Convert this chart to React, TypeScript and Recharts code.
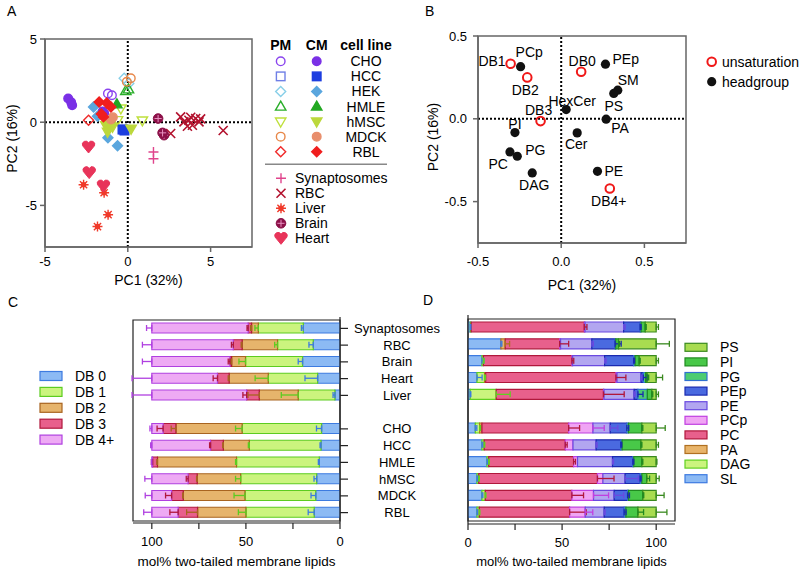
import React from 'react';
import {
  ScatterChart, Scatter, BarChart, Bar, XAxis, YAxis,
  ReferenceLine, ReferenceArea, ErrorBar,
} from 'recharts';

const FONT = '"Liberation Sans", Arial, Helvetica, sans-serif';
const FRAME = '#666';

// ---------- categories ----------
const cellLines = ['CHO', 'HCC', 'HEK', 'HMLE', 'hMSC', 'MDCK', 'RBL'];
const barCellLines = ['CHO', 'HCC', 'HMLE', 'hMSC', 'MDCK', 'RBL'];
const tissues = ['Synaptosomes', 'RBC', 'Brain', 'Heart', 'Liver'];
const tissueLegend = ['Synaptosomes', 'RBC', 'Liver', 'Brain', 'Heart'];

// ---------- A: PCA scores (PC1, PC2) ----------
const choPM = [{ x: -1.2, y: 1.72 }, { x: -0.96, y: 1.62 }];
const choCM = [{ x: -3.6, y: 1.42 }, { x: -3.42, y: 1.2 }, { x: -3.36, y: 1.02 }, { x: -1.52, y: 0.64 }, { x: -1.42, y: 0.52 }];
const hccPM = [{ x: -0.26, y: -0.44 }];
const hccCM = [{ x: -0.32, y: -0.44 }, { x: -0.2, y: -0.5 }];
const hekPM = [{ x: -0.22, y: 2.64 }, { x: 0.06, y: 2.32 }];
const hekCM = [{ x: -2.07, y: 0.92 }, { x: -1.83, y: 0.36 }, { x: -1.2, y: -0.93 }, { x: -0.62, y: -1.42 }];
const hmlePM = [{ x: -0.12, y: 1.88 }, { x: 0.04, y: 1.98 }];
const hmleCM = [{ x: -0.66, y: 1.08 }];
const hmscPM = [{ x: -0.42, y: 0.82 }, { x: -0.62, y: 0.12 }, { x: 0.88, y: 0.1 }];
const hmscCM = [{ x: -1.33, y: -0.18 }, { x: -1.13, y: -0.38 }, { x: -1.22, y: -0.58 }, { x: -0.92, y: -0.28 }, { x: -1.1, y: -0.1 }, { x: 0.2, y: -0.4 }];
const mdckPM = [{ x: 0.18, y: 2.64 }, { x: -0.06, y: 2.43 }];
const mdckCM = [{ x: -1.02, y: 0.16 }, { x: -0.9, y: 0.3 }];
const rblPM = [{ x: -2.37, y: 0.12 }];
const rblCM = [{ x: -1.73, y: 1.22 }, { x: -1.27, y: 1.16 }, { x: -1.02, y: 0.92 }, { x: -1.47, y: 0.32 }, { x: -1.6, y: 0.5 }];

const synaptosomes = [{ x: 1.55, y: -1.79 }, { x: 1.55, y: -2.2 }];
const rbc = [
  { x: 2.59, y: -0.68 }, { x: 5.76, y: -0.5 }, { x: 3.19, y: 0.32 }, { x: 3.39, y: 0.02 }, { x: 3.69, y: 0.12 },
  { x: 3.9, y: -0.18 }, { x: 4.1, y: 0.22 }, { x: 4.3, y: 0.02 }, { x: 3.6, y: -0.24 }, { x: 4.4, y: 0.2 }, { x: 3.8, y: 0.3 },
];
const liver = [{ x: -2.67, y: -3.76 }, { x: -1.43, y: -4.24 }, { x: -1.19, y: -5.56 }, { x: -1.83, y: -6.27 }];
const brain = [{ x: 1.83, y: 0.22 }, { x: 2.19, y: -0.78 }, { x: 2.1, y: -0.64 }];
const heart = [{ x: -2.37, y: -1.49 }, { x: -2.33, y: -3.03 }, { x: -1.47, y: -3.83 }];

const pmPoints: Record<string, { x: number; y: number }[]> = {
  CHO: choPM, HCC: hccPM, HEK: hekPM, HMLE: hmlePM, hMSC: hmscPM, MDCK: mdckPM, RBL: rblPM,
};
const cmPoints: Record<string, { x: number; y: number }[]> = {
  CHO: choCM, HCC: hccCM, HEK: hekCM, HMLE: hmleCM, hMSC: hmscCM, MDCK: mdckCM, RBL: rblCM,
};
const tissuePoints: Record<string, { x: number; y: number }[]> = {
  Synaptosomes: synaptosomes, RBC: rbc, Liver: liver, Brain: brain, Heart: heart,
};

const cellStyle: Record<string, { kind: string; pm: string; cm: string }> = {
  CHO: { kind: 'circle', pm: '#8a44ee', cm: '#7a30e6' },
  HCC: { kind: 'square', pm: '#6f7fe6', cm: '#1d3ee0' },
  HEK: { kind: 'diamond', pm: '#88cfe8', cm: '#5aa6de' },
  HMLE: { kind: 'triUp', pm: '#2aae2a', cm: '#22a822' },
  hMSC: { kind: 'triDown', pm: '#bfe03c', cm: '#bcd83c' },
  MDCK: { kind: 'circle', pm: '#e8884a', cm: '#e88e6c' },
  RBL: { kind: 'diamond', pm: '#f02a2a', cm: '#f01e1e' },
};
const tissueStyle: Record<string, { kind: string; color: string }> = {
  Synaptosomes: { kind: 'plus', color: '#e0448c' },
  RBC: { kind: 'cross', color: '#b3122e' },
  Liver: { kind: 'asterisk', color: '#f03a2a' },
  Brain: { kind: 'circleCross', color: '#8c1048' },
  Heart: { kind: 'heart', color: '#e8345a' },
};

// ---------- B: loadings ----------
const unsaturation = [
  { name: 'DB0', x: 0.12, y: 0.284 },
  { name: 'DB1', x: -0.304, y: 0.332 },
  { name: 'DB2', x: -0.204, y: 0.25 },
  { name: 'DB3', x: -0.124, y: -0.014 },
  { name: 'DB4+', x: 0.292, y: -0.421 },
];
const headgroup = [
  { name: 'PCp', x: -0.244, y: 0.315 },
  { name: 'PEp', x: 0.266, y: 0.33 },
  { name: 'SM', x: 0.34, y: 0.173 },
  { name: 'PS', x: 0.316, y: 0.153 },
  { name: 'HexCer', x: 0.03, y: 0.056 },
  { name: 'PA', x: 0.27, y: -0.002 },
  { name: 'PI', x: -0.278, y: -0.083 },
  { name: 'Cer', x: 0.096, y: -0.085 },
  { name: 'PC', x: -0.308, y: -0.2 },
  { name: 'PG', x: -0.264, y: -0.226 },
  { name: 'DAG', x: -0.174, y: -0.327 },
  { name: 'PE', x: 0.218, y: -0.317 },
];
// label placement: dx, dy, anchor
const labelPlace: Record<string, [number, number, string]> = {
  DB1: [-5, -3, 'end'], PCp: [-5, -15, 'start'], DB2: [-2, 13, 'middle'], DB0: [1, -11, 'middle'],
  PEp: [7, -5, 'start'], SM: [0, -10, 'start'], PS: [0, 13, 'middle'], HexCer: [6, -9, 'middle'],
  DB3: [-2, -11, 'middle'], PA: [5, 9, 'start'], PI: [0, -9, 'middle'], Cer: [-1, 11, 'middle'],
  PC: [-2, 12, 'end'], PG: [8, -6, 'start'], DAG: [2, 12, 'middle'], PE: [7, 0, 'start'], 'DB4+': [-1, 12, 'middle'],
};

// ---------- C: unsaturation, mol% (rows: tissues then cell lines) ----------
const db0 = [19.5, 14.2, 19.9, 11.9, 2.7, 9.8, 10.1, 11, 12.4, 12.9, 13.7];
const db1 = [23.9, 19, 30.3, 26.2, 19.5, 42.2, 38.1, 44, 40.4, 37.6, 36.3];
const db2 = [3.6, 18.8, 7.4, 20.8, 20.7, 35.2, 13.8, 42, 23.1, 32.8, 25.7];
const db3 = [1.8, 4.7, 0.9, 6.2, 6.7, 6.8, 6.8, 2.6, 4.8, 6.2, 10.3];
const db4 = [51.2, 43.3, 41.5, 34.9, 50.4, 6, 31.2, 0.4, 19.3, 10.5, 14];
const db0Err = [1, 2.3, 2.3, 6.7, 1, 2.7, 0.5, 0.5, 1.4, 2.5, 3.2];
const db1Err = [1.8, 1.5, 3.5, 7, 9, 3.5, 0.5, 0.5, 2.7, 5.8, 4];
const db2Err = [0.5, 0.5, 0.5, 0.5, 6, 2.5, 0.3, 0.3, 0.3, 0.3, 5.8];
const db3Err = [0.6, 1, 0.9, 2.3, 2, 3.2, 0.5, 0.6, 1, 3.2, 4.4];
const db4Err = [2.8, 5, 5, 10.5, 10.5, 1, 0.6, 0.2, 3.7, 3.5, 4.3];

// ---------- D: headgroup, mol% ----------
const sl = [1.2, 17.5, 7.4, 4.8, 1.2, 3.9, 7.4, 10.1, 4.8, 7.4, 4.8];
const dag = [0.5, 0, 0.8, 4.0, 13.8, 2.3, 1.2, 0.9, 0.9, 1.8, 1.2];
const pa = [0, 2.3, 0, 0.6, 0, 1.2, 0, 0, 0, 0, 0];
const pc = [60.1, 28.9, 47, 69.2, 57, 46.1, 43.1, 45.1, 63.1, 46, 48];
const pcp = [0.4, 0.5, 0.4, 0.6, 0.3, 12.9, 4.1, 2.1, 2.9, 11.5, 8.3];
const pe = [20.5, 16.6, 17, 12.8, 16, 9.2, 12.3, 18.6, 11.8, 11, 10.1];
const pep = [8.8, 12.4, 15.4, 1.2, 2, 8.8, 13.1, 10.8, 8, 7.1, 10.6];
const pg = [0.5, 0.3, 0.8, 1.2, 5, 0.9, 0.7, 0.5, 0.9, 0.5, 0.9];
const pi = [2.2, 1.5, 2.2, 0.8, 2.4, 7.1, 10, 4.3, 2.6, 7.6, 6.4];
const ps = [5.8, 20, 9, 4.8, 2.3, 7.6, 8.1, 7.6, 5, 7.1, 9.7];
const slErr = [0.3, 0.5, 1, 2.7, 0.3, 0.8, 0.5, 0.3, 0.3, 0.5, 0.3];
const dagErr = [0, 0, 0.3, 0.5, 7.4, 0.4, 0.3, 0.3, 0.3, 0.3, 0.3];
const paErr = [0, 2.3, 0, 0, 0, 0, 0, 0, 0, 0, 0];
const pcErr = [1.4, 4.8, 1, 5.3, 11, 5.8, 1, 1, 8.8, 6.2, 8.8];
const pcpErr = [0, 0, 0, 0, 0, 6, 0, 0, 0, 8, 4];
const peErr = [0.8, 0.8, 0.8, 0.5, 0.5, 4, 0.5, 0.5, 7, 5, 0.5];
const pepErr = [0.5, 3.2, 0.5, 2, 2.7, 1, 0.5, 0.5, 0.5, 1, 1];
const pgErr = [0, 0, 0, 0, 0, 0, 0, 0, 0, 0, 0];
const piErr = [0.5, 0.5, 0.5, 0.8, 0.5, 0.5, 0.5, 0.5, 1.5, 0.5, 3];
const psErr = [1.2, 7, 1.2, 3.4, 1.2, 4.8, 1.2, 0.4, 1.6, 4.2, 5.7];

const cSeries = [
  { key: 'db0', label: 'DB 0', values: db0, errs: db0Err, fill: '#8cbaf4', stroke: '#3d7be0' },
  { key: 'db1', label: 'DB 1', values: db1, errs: db1Err, fill: '#cbf47e', stroke: '#5ccc20' },
  { key: 'db2', label: 'DB 2', values: db2, errs: db2Err, fill: '#e6b46c', stroke: '#a86420' },
  { key: 'db3', label: 'DB 3', values: db3, errs: db3Err, fill: '#e8608c', stroke: '#b0183c' },
  { key: 'db4', label: 'DB 4+', values: db4, errs: db4Err, fill: '#eeaaf4', stroke: '#b040e0' },
];
const dSeries = [
  { key: 'sl', label: 'SL', values: sl, errs: slErr, fill: '#8cbaf4', stroke: '#3d7be0' },
  { key: 'dag', label: 'DAG', values: dag, errs: dagErr, fill: '#cbf47e', stroke: '#60d020' },
  { key: 'pa', label: 'PA', values: pa, errs: paErr, fill: '#e8b46a', stroke: '#b07020' },
  { key: 'pc', label: 'PC', values: pc, errs: pcErr, fill: '#e8608c', stroke: '#b0183c' },
  { key: 'pcp', label: 'PCp', values: pcp, errs: pcpErr, fill: '#f0a4f4', stroke: '#c040e0' },
  { key: 'pe', label: 'PE', values: pe, errs: peErr, fill: '#b2a6f0', stroke: '#6a4ae0' },
  { key: 'pep', label: 'PEp', values: pep, errs: pepErr, fill: '#4a6ae0', stroke: '#1a2ab0' },
  { key: 'pg', label: 'PG', values: pg, errs: pgErr, fill: '#4ccc70', stroke: '#3070d0' },
  { key: 'pi', label: 'PI', values: pi, errs: piErr, fill: '#48c848', stroke: '#208a20' },
  { key: 'ps', label: 'PS', values: ps, errs: psErr, fill: '#a8dc50', stroke: '#3a8a20' },
];

const GAP = ' ';
const rowNames = [...tissues, ...barCellLines];

function buildRows(series: typeof cSeries) {
  const rows: any[] = rowNames.map((name, i) => {
    const r: any = { name };
    series.forEach((s) => {
      r[s.key] = s.values[i];
      r[s.key + 'Err'] = s.errs[i] ? [0, s.errs[i]] : null;
    });
    return r;
  });
  const gap: any = { name: GAP };
  series.forEach((s) => { gap[s.key] = 0; gap[s.key + 'Err'] = null; });
  rows.splice(tissues.length, 0, gap);
  return rows;
}
const cRows = buildRows(cSeries);
const dRows = buildRows(dSeries);

// ---------- markers ----------
function Marker({ kind, cx, cy, color, filled }: { kind: string; cx: number; cy: number; color: string; filled?: boolean }) {
  const f = filled ? color : 'none';
  const sw = 1.4;
  switch (kind) {
    case 'circle':
      return <circle cx={cx} cy={cy} r={4.3} fill={f} stroke={color} strokeWidth={sw} />;
    case 'square':
      return <rect x={cx - 4.3} y={cy - 4.3} width={8.6} height={8.6} fill={f} stroke={color} strokeWidth={sw} />;
    case 'diamond':
      return <polygon points={`${cx},${cy - 5} ${cx + 5},${cy} ${cx},${cy + 5} ${cx - 5},${cy}`} fill={f} stroke={color} strokeWidth={sw} />;
    case 'triUp':
      return <polygon points={`${cx},${cy - 5.4} ${cx + 5.2},${cy + 3.6} ${cx - 5.2},${cy + 3.6}`} fill={f} stroke={color} strokeWidth={sw} />;
    case 'triDown':
      return <polygon points={`${cx},${cy + 5.4} ${cx + 5.2},${cy - 3.6} ${cx - 5.2},${cy - 3.6}`} fill={f} stroke={color} strokeWidth={sw} />;
    case 'plus':
      return <path d={`M${cx - 5},${cy}H${cx + 5}M${cx},${cy - 5}V${cy + 5}`} stroke={color} strokeWidth={1.4} fill="none" />;
    case 'cross':
      return <path d={`M${cx - 4.5},${cy - 4.5}L${cx + 4.5},${cy + 4.5}M${cx + 4.5},${cy - 4.5}L${cx - 4.5},${cy + 4.5}`} stroke={color} strokeWidth={1.6} fill="none" />;
    case 'asterisk':
      return (
        <g stroke={color} strokeWidth={1.4}>
          <path d={`M${cx - 5},${cy}H${cx + 5}M${cx},${cy - 5}V${cy + 5}M${cx - 3.6},${cy - 3.6}L${cx + 3.6},${cy + 3.6}M${cx + 3.6},${cy - 3.6}L${cx - 3.6},${cy + 3.6}`} />
          <circle cx={cx} cy={cy} r={2} fill={color} />
        </g>
      );
    case 'circleCross':
      return (
        <g>
          <circle cx={cx} cy={cy} r={4.8} fill={color} stroke={color} strokeWidth={1} />
          <path d={`M${cx - 3.6},${cy}H${cx + 3.6}M${cx},${cy - 3.6}V${cy + 3.6}`} stroke="#e890c0" strokeWidth={1} />
        </g>
      );
    case 'heart':
      return (
        <path
          d={`M${cx},${cy + 6} L${cx - 5.9},${cy - 1.2} A3.2 3.2 0 1 1 ${cx},${cy - 4} A3.2 3.2 0 1 1 ${cx + 5.9},${cy - 1.2} Z`}
          fill={color} stroke={color} strokeWidth={1}
        />
      );
    default:
      return null;
  }
}

const tickStyle = { fill: '#000', fontSize: 13, fontFamily: FONT };
const titleStyle = { fill: '#000', fontSize: 14, fontFamily: FONT };

const yTitle = (text: string, dx: number, shift: number) => ({
  content: (p: any) => {
    const vb = p.viewBox || { x: 0, y: 0, height: 0 };
    const x = vb.x + dx;
    const y = vb.y + vb.height / 2 + shift;
    return (
      <text x={x} y={y} transform={`rotate(-90 ${x} ${y})`} textAnchor="middle" dominantBaseline="central" {...titleStyle}>
        {text}
      </text>
    );
  },
});

function PanelA() {
  return (
    <ScatterChart width={260} height={300} margin={{ top: 39, right: 8, bottom: 33, left: 0 }}>
      <XAxis type="number" dataKey="x" domain={[-5, 7.5]} ticks={[-5, 0, 5]} height={20} tickSize={5} tickMargin={5}
        stroke={FRAME} strokeWidth={1.5} tick={tickStyle}
        label={{ value: 'PC1 (32%)', position: 'bottom', offset: 8, ...titleStyle }} />
      <YAxis type="number" dataKey="y" domain={[-7.5, 5]} ticks={[-5, 0, 5]} width={45} tickSize={5} tickMargin={3}
        stroke={FRAME} strokeWidth={1.5} tick={tickStyle} label={yTitle('PC2 (16%)', 12, -4.5)} />
      <ReferenceArea x1={-5} x2={7.5} y1={-7.5} y2={5} fill="none" stroke={FRAME} strokeWidth={1.5} />
      <ReferenceLine x={0} stroke="#000" strokeWidth={2} strokeDasharray="2 2" />
      <ReferenceLine y={0} stroke="#000" strokeWidth={2} strokeDasharray="2 2" />
      {cellLines.map((name) => (
        <Scatter key={'pm' + name} data={pmPoints[name]} isAnimationActive={false}
          shape={(p: any) => <Marker kind={cellStyle[name].kind} color={cellStyle[name].pm} cx={p.cx} cy={p.cy} />} />
      ))}
      {cellLines.map((name) => (
        <Scatter key={'cm' + name} data={cmPoints[name]} isAnimationActive={false}
          shape={(p: any) => <Marker kind={cellStyle[name].kind} color={cellStyle[name].cm} cx={p.cx} cy={p.cy} filled />} />
      ))}
      {tissueLegend.map((name) => (
        <Scatter key={'t' + name} data={tissuePoints[name]} isAnimationActive={false}
          shape={(p: any) => <Marker kind={tissueStyle[name].kind} color={tissueStyle[name].color} cx={p.cx} cy={p.cy} filled />} />
      ))}
    </ScatterChart>
  );
}

function loadingShape(open: boolean) {
  return (p: any) => {
    const name = p.payload?.name ?? p.name;
    const [dx, dy, anchor] = labelPlace[name] || [6, 0, 'start'];
    return (
      <g>
        {open
          ? <circle cx={p.cx} cy={p.cy} r={4.3} fill="none" stroke="#f01818" strokeWidth={2} />
          : <circle cx={p.cx} cy={p.cy} r={4.6} fill="#111" />}
        <text x={p.cx + dx} y={p.cy + dy} textAnchor={anchor as any} dominantBaseline="central" {...titleStyle}>{name}</text>
      </g>
    );
  };
}

function PanelB() {
  return (
    <ScatterChart width={290} height={300} margin={{ top: 36, right: 4, bottom: 37, left: 0 }}>
      <XAxis type="number" dataKey="x" domain={[-0.5, 0.75]} ticks={[-0.5, 0, 0.5]} height={20} tickSize={5} tickMargin={9}
        stroke={FRAME} strokeWidth={1.5} tick={tickStyle} tickFormatter={(v: number) => v.toFixed(1)}
        label={{ value: 'PC1 (32%)', position: 'bottom', offset: 17, ...titleStyle }} />
      <YAxis type="number" dataKey="y" domain={[-0.75, 0.5]} ticks={[-0.5, 0, 0.5]} width={78} tickSize={5} tickMargin={6}
        stroke={FRAME} strokeWidth={1.5} tick={tickStyle} tickFormatter={(v: number) => v.toFixed(1)}
        label={yTitle('PC2 (16%)', 33, -2.5)} />
      <ReferenceArea x1={-0.5} x2={0.75} y1={-0.75} y2={0.5} fill="none" stroke={FRAME} strokeWidth={1.5} />
      <ReferenceLine x={0} stroke="#000" strokeWidth={2} strokeDasharray="2 2" />
      <ReferenceLine y={0} stroke="#000" strokeWidth={2} strokeDasharray="2 2" />
      <Scatter data={headgroup} isAnimationActive={false} shape={loadingShape(false)} />
      <Scatter data={unsaturation} isAnimationActive={false} shape={loadingShape(true)} />
    </ScatterChart>
  );
}

function StackChart({ side, errorsOnly }: { side: 'C' | 'D'; errorsOnly?: boolean }) {
  const isC = side === 'C';
  const data = isC ? cRows : dRows;
  const series = isC ? cSeries : dSeries;
  const axisColor = '#222';
  return (
    <BarChart
      layout="vertical"
      width={isC ? 450 : 350}
      height={283}
      data={data}
      barSize={10}
      margin={isC ? { top: 27, right: 0, bottom: 25, left: 133 } : { top: 25, right: 125, bottom: 24, left: 0 }}
    >
      <XAxis
        type="number"
        domain={[0, 110]}
        allowDataOverflow
        reversed={isC}
        ticks={[0, 25, 50, 75, 100]}
        tickFormatter={(v: number) => (v % 50 === 0 ? String(v) : '')}
        height={25}
        tickSize={6}
        tickMargin={8}
        stroke={axisColor}
        strokeWidth={1.2}
        axisLine={!errorsOnly}
        tickLine={!errorsOnly}
        tick={errorsOnly ? false : tickStyle}
        label={errorsOnly ? undefined : {
          value: 'mol% two-tailed membrane lipids', position: 'bottom', offset: 8,
          fill: '#000', fontSize: isC ? 13.5 : 13, fontFamily: FONT,
        }}
      />
      <YAxis
        type="category"
        dataKey="name"
        orientation={isC ? 'right' : 'left'}
        width={isC ? 110 : 18}
        ticks={rowNames}
        interval={0}
        padding={isC ? { top: 3, bottom: 2 } : { top: 4, bottom: 3 }}
        tickSize={isC ? 8 : 9}
        tickMargin={2}
        stroke={axisColor}
        strokeWidth={1.2}
        axisLine={!errorsOnly}
        tickLine={!errorsOnly}
        tick={errorsOnly || !isC ? false : (p: any) => (
          <text x={p.x + 47} y={p.y} textAnchor="middle" dominantBaseline="central" fontSize={13} fontFamily={FONT} fill="#000">
            {p.payload.value}
          </text>
        )}
      />
      {!errorsOnly && <ReferenceArea x1={0} x2={110} fill="none" stroke={axisColor} strokeWidth={1.2} />}
      {series.map((s) => (
        <Bar
          key={s.key}
          dataKey={s.key}
          stackId="a"
          fill={errorsOnly ? 'none' : s.fill}
          stroke={errorsOnly ? 'none' : s.stroke}
          strokeWidth={1.2}
          isAnimationActive={false}
        >
          {errorsOnly && <ErrorBar dataKey={s.key + 'Err'} direction="x" width={3} stroke={s.stroke} strokeWidth={1.3} />}
        </Bar>
      ))}
    </BarChart>
  );
}

function Overlay() {
  const t = { fontFamily: FONT, fontSize: 14, fill: '#000' };
  return (
    <svg width={800} height={573} style={{ position: 'absolute', left: 0, top: 0, pointerEvents: 'none' }}>
      <text x={7} y={16} {...t}>A</text>
      <text x={425} y={16} {...t}>B</text>
      <text x={8} y={307} {...t}>C</text>
      <text x={423} y={305} {...t}>D</text>

      {/* A legend */}
      <text x={280.7} y={45} textAnchor="middle" dominantBaseline="central" fontWeight="bold" {...t}>PM</text>
      <text x={316.7} y={45} textAnchor="middle" dominantBaseline="central" fontWeight="bold" {...t}>CM</text>
      <text x={366} y={45} textAnchor="middle" dominantBaseline="central" fontWeight="bold" {...t}>cell line</text>
      {cellLines.map((name, i) => {
        const y = 61.3 + i * 15.07;
        const st = cellStyle[name];
        return (
          <g key={name}>
            <Marker kind={st.kind} cx={280.7} cy={y} color={st.pm} />
            <Marker kind={st.kind} cx={316.7} cy={y} color={st.cm} filled />
            <text x={366} y={y} textAnchor="middle" dominantBaseline="central" {...t}>{name}</text>
          </g>
        );
      })}
      <line x1={265} x2={387} y1={164.3} y2={164.3} stroke="#888" strokeWidth={1.5} />
      {tissueLegend.map((name, i) => {
        const y = 178.3 + i * 15;
        const st = tissueStyle[name];
        return (
          <g key={name}>
            <Marker kind={st.kind} cx={281} cy={y} color={st.color} filled />
            <text x={295} y={y} dominantBaseline="central" {...t}>{name}</text>
          </g>
        );
      })}

      {/* B legend */}
      <circle cx={711.7} cy={61.7} r={4.3} fill="none" stroke="#f01818" strokeWidth={2} />
      <text x={722} y={61.7} dominantBaseline="central" {...t}>unsaturation</text>
      <circle cx={711.7} cy={81.7} r={4.6} fill="#111" />
      <text x={722} y={81.7} dominantBaseline="central" {...t}>headgroup</text>

      {/* C legend */}
      {cSeries.map((s, i) => {
        const y = 376 + i * 15.9;
        return (
          <g key={s.key}>
            <rect x={40} y={y - 4.5} width={22} height={9} fill={s.fill} stroke={s.stroke} strokeWidth={1.2} />
            <text x={75} y={y} dominantBaseline="central" {...t}>{s.label}</text>
          </g>
        );
      })}

      {/* D legend */}
      {[...dSeries].reverse().map((s, i) => {
        const y = 347.3 + i * 14.6;
        return (
          <g key={s.key}>
            <rect x={685} y={y - 4} width={22} height={8} fill={s.fill} stroke={s.stroke} strokeWidth={1.2} />
            <text x={720} y={y} dominantBaseline="central" {...t}>{s.label}</text>
          </g>
        );
      })}
    </svg>
  );
}

export default function App() {
  return (
    <div style={{ position: 'absolute', left: 0, top: 0, width: 800, height: 573, background: '#fff', fontFamily: FONT }}>
      <div style={{ position: 'absolute', left: 0, top: 0 }}><PanelA /></div>
      <div style={{ position: 'absolute', left: 400, top: 0 }}><PanelB /></div>
      <div style={{ position: 'absolute', left: 0, top: 290 }}><StackChart side="C" /></div>
      <div style={{ position: 'absolute', left: 0, top: 290 }}><StackChart side="C" errorsOnly /></div>
      <div style={{ position: 'absolute', left: 450, top: 290 }}><StackChart side="D" /></div>
      <div style={{ position: 'absolute', left: 450, top: 290 }}><StackChart side="D" errorsOnly /></div>
      <Overlay />
    </div>
  );
}
